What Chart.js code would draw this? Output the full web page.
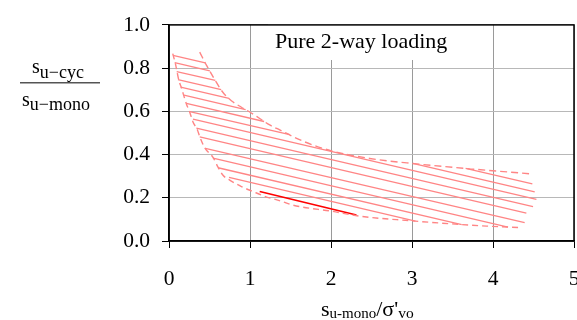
<!DOCTYPE html>
<html><head><meta charset="utf-8">
<script src="https://cdn.jsdelivr.net/npm/chart.js@4/dist/chart.umd.min.js"></script>
<style>html,body{margin:0;padding:0;background:#fff}#wrap{width:577px;height:320px;position:relative}</style>
</head><body><div id="wrap"><canvas id="c" width="577" height="320"></canvas></div>
<script>
// ---- data ----
const xTicks = [0, 1, 2, 3, 4, 5];
const yTicks = [0.0, 0.2, 0.4, 0.6, 0.8, 1.0];
const legendText = 'Pure 2-way loading';

// upper dashed boundary
const upperX = [0.379, 0.462, 0.564, 0.667, 0.770, 0.894, 0.996, 1.120, 1.243, 1.367, 1.654, 2.005, 2.478, 3.054, 3.712, 4.494];
const upperY = [0.874, 0.814, 0.747, 0.687, 0.649, 0.619, 0.597, 0.567, 0.537, 0.514, 0.462, 0.417, 0.382, 0.357, 0.334, 0.310];
// lower dashed boundary
const lowerX = [0.046, 0.079, 0.120, 0.153, 0.215, 0.256, 0.296, 0.351, 0.379, 0.441, 0.543, 0.605, 0.667, 0.749, 0.894, 1.037, 1.181, 1.388, 1.531, 2.021, 2.354, 2.972, 3.465, 3.919, 4.351];
const lowerY = [0.867, 0.821, 0.746, 0.709, 0.634, 0.596, 0.551, 0.514, 0.484, 0.431, 0.387, 0.342, 0.304, 0.282, 0.252, 0.229, 0.207, 0.184, 0.166, 0.137, 0.115, 0.094, 0.080, 0.069, 0.062];

// straight parallel hatch segments: [x1, y1, x2, y2]
const hatchShort = [
  [0.049, 0.859, 0.448, 0.824],
  [0.070, 0.825, 0.504, 0.787],
  [0.095, 0.784, 0.572, 0.743],
  [0.111, 0.747, 0.644, 0.700],
  [0.144, 0.712, 0.741, 0.660],
  [0.185, 0.675, 0.946, 0.608],
  [0.215, 0.637, 1.174, 0.553],
  [0.256, 0.599, 1.491, 0.492]
];
// segments that re-enter the band under the upper boundary
const hatchReentry = [
  [3.662, 0.336, 4.486, 0.264],
  [3.009, 0.359, 4.515, 0.227]
];
// long segments across the band
const hatchLong = [
  [0.296, 0.564, 4.536, 0.193],
  [0.338, 0.522, 4.494, 0.159],
  [0.379, 0.482, 4.412, 0.129],
  [0.449, 0.429, 4.391, 0.085],
  [0.543, 0.383, 4.185, 0.064],
  [0.605, 0.339, 3.614, 0.076],
  [0.741, 0.294, 3.042, 0.092]
];
// dark red segment
const darkLine = [1.120, 0.229, 2.314, 0.120];

// ---- build datasets ----
const HATCH = '#ff8585';
const segPts = s => [{x: s[0], y: s[1]}, {x: s[2], y: s[3]}];
const zipPts = (xs, ys) => xs.map((x, i) => ({x, y: ys[i]}));
const datasets = [];
[...hatchShort, ...hatchReentry, ...hatchLong].forEach(s => {
  datasets.push({data: segPts(s), showLine: true, pointRadius: 0, borderColor: HATCH, borderWidth: 1.3});
});
datasets.push({data: zipPts(upperX, upperY), showLine: true, pointRadius: 0, borderColor: HATCH,
  borderWidth: 1.4, borderDash: [7, 4], cubicInterpolationMode: 'monotone'});
datasets.push({data: zipPts(lowerX, lowerY), showLine: true, pointRadius: 0, borderColor: HATCH,
  borderWidth: 1.4, borderDash: [6, 4], cubicInterpolationMode: 'monotone'});
datasets.push({data: segPts(darkLine), showLine: true, pointRadius: 0, borderColor: '#ff0000', borderWidth: 1.6});

const SERIF = '"Liberation Serif", "Times New Roman", serif';

function drawParts(ctx, x, parts) {
  parts.forEach(p => {
    ctx.font = p.size + 'px ' + SERIF;
    ctx.fillText(p.t, x, p.y);
    x += ctx.measureText(p.t).width + (p.gap || 0);
  });
}

const decorPlugin = {
  id: 'decor',
  beforeDatasetsDraw(chart) {
    const ctx = chart.ctx;
    ctx.save();
    ctx.fillStyle = '#fff';
    ctx.fillRect(268, 23, 192, 37);
    ctx.fillStyle = '#000';
    ctx.font = '22px ' + SERIF;
    ctx.textBaseline = 'alphabetic';
    ctx.textAlign = 'left';
    ctx.fillText(legendText, 275, 48);
    ctx.restore();
  },
  afterDraw(chart) {
    const ctx = chart.ctx;
    const a = chart.chartArea;
    ctx.save();
    ctx.strokeStyle = '#000';
    ctx.lineWidth = 1.5;
    ctx.strokeRect(a.left, a.top, a.right - a.left, a.bottom - a.top);
    // y-axis title as a fraction
    ctx.fillStyle = '#000';
    ctx.textAlign = 'left';
    ctx.textBaseline = 'alphabetic';
    drawParts(ctx, 32, [{t: 's', size: 20, y: 72.5}, {t: 'u\u2212cyc', size: 18, y: 77.5}]);
    ctx.strokeStyle = '#555';
    ctx.lineWidth = 1.5;
    ctx.beginPath(); ctx.moveTo(20, 82.7); ctx.lineTo(100, 82.7); ctx.stroke();
    drawParts(ctx, 22, [{t: 's', size: 20, y: 105.5}, {t: 'u\u2212mono', size: 18, y: 110}]);
    // x-axis title
    drawParts(ctx, 321, [{t: 's', size: 22, y: 315.5}, {t: 'u-mono', size: 15, y: 318},
      {t: '/\u03c3\'', size: 22, y: 315.5}, {t: 'vo', size: 15.5, y: 318}]);
    ctx.restore();
  }
};

new Chart(document.getElementById('c').getContext('2d'), {
  type: 'scatter',
  data: {datasets},
  options: {
    responsive: false, animation: false, devicePixelRatio: 1,
    layout: {padding: {top: 19, right: 3, left: 0, bottom: 0}},
    plugins: {legend: {display: false}, tooltip: {enabled: false}},
    scales: {
      x: {
        type: 'linear', min: xTicks[0], max: xTicks[xTicks.length - 1],
        afterBuildTicks: s => { s.ticks = xTicks.map(v => ({value: v})); },
        ticks: {color: '#000', font: {family: SERIF, size: 21.5}, padding: 18, maxRotation: 0,
          callback: v => String(v)},
        grid: {color: '#9a9a9a', tickColor: '#000', tickLength: 7, lineWidth: 1},
        border: {color: '#000', width: 1.5},
        afterFit: s => { s.height = 79; s.paddingRight = 0; s.paddingLeft = 0; }
      },
      y: {
        type: 'linear', min: yTicks[0], max: yTicks[yTicks.length - 1],
        afterBuildTicks: s => { s.ticks = yTicks.map(v => ({value: v})); },
        ticks: {color: '#000', font: {family: SERIF, size: 21.5}, padding: 12,
          callback: v => Number(v).toFixed(1)},
        grid: {color: '#b8b8b8', tickColor: '#000', tickLength: 7, lineWidth: 1},
        border: {color: '#000', width: 1.5},
        afterFit: s => { s.width = 169; }
      }
    }
  },
  plugins: [decorPlugin]
});
</script></body></html>
